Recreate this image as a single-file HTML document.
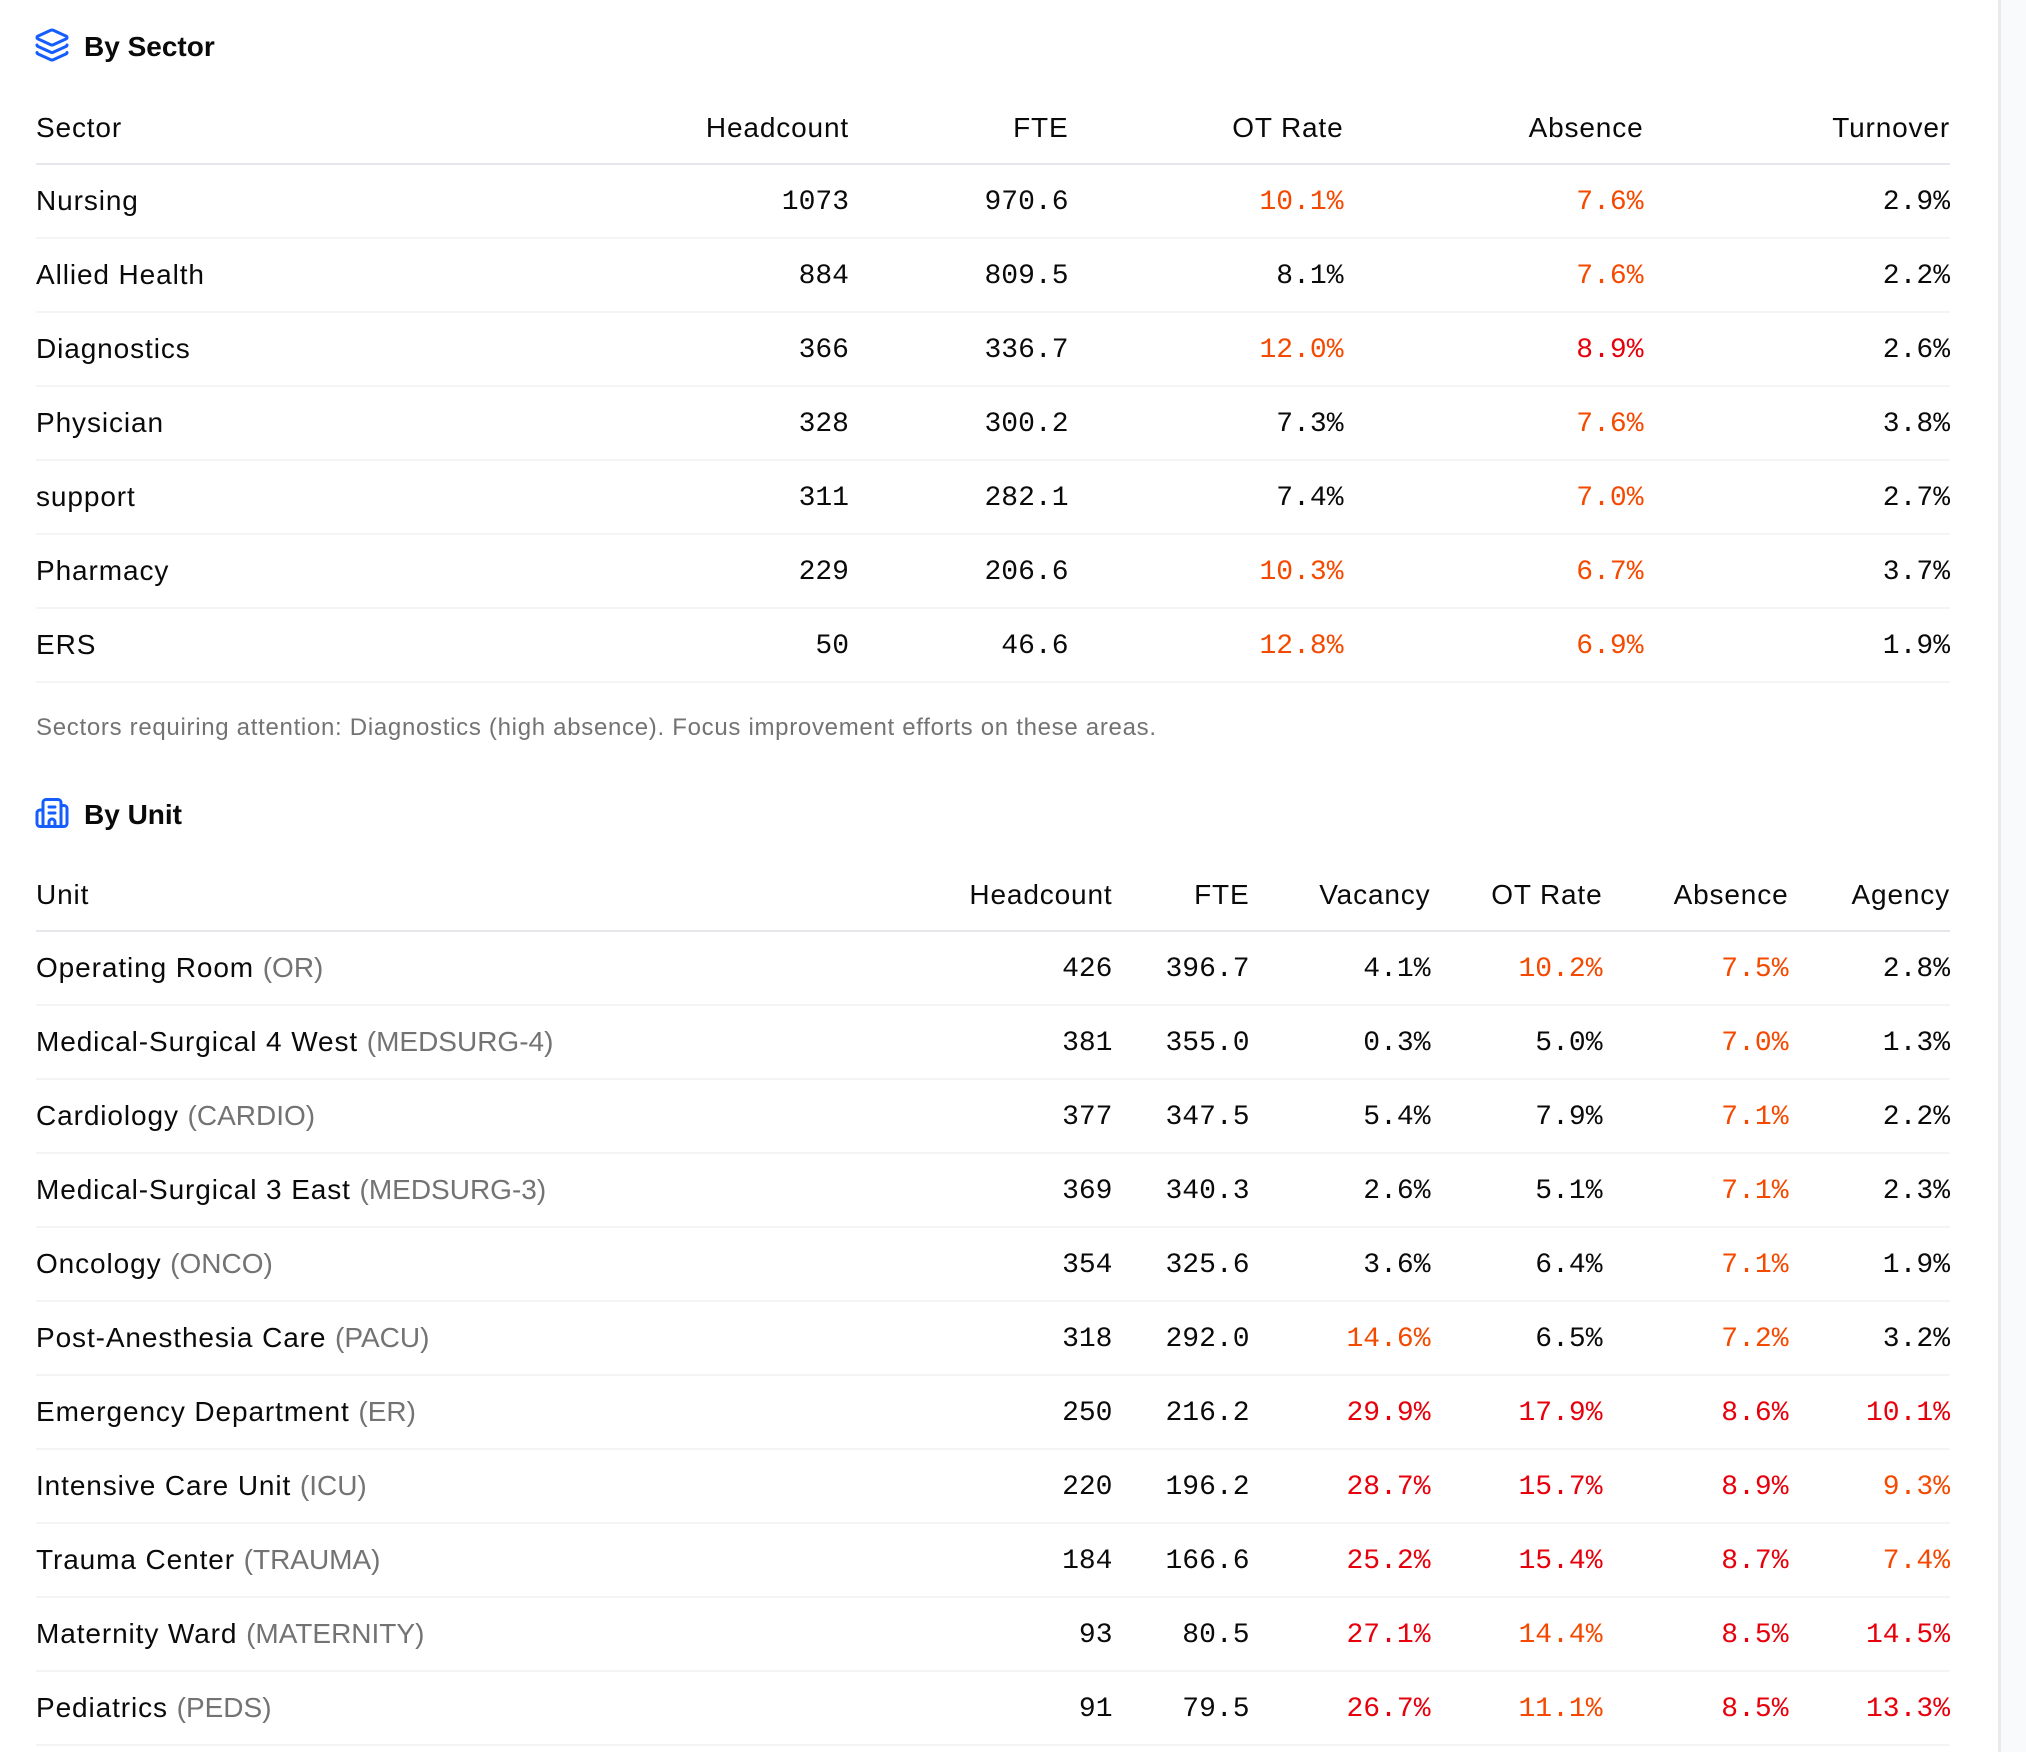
<!DOCTYPE html>
<html>
<head>
<meta charset="utf-8">
<style>
  html, body { margin: 0; padding: 0; }
  body {
    width: 2026px; height: 1752px; overflow: hidden; position: relative;
    background: #f9fafb;
    font-family: "Liberation Sans", Arial, sans-serif;
    color: #0a0a0a;
  }
  .panel {
    position: absolute; left: 0; top: 0; width: 1998px; height: 1752px;
    background: #ffffff;
    border-right: 3px solid #e8eaee;
  }
  .title {
    position: absolute; left: 34px; height: 40px; line-height: 40px;
    font-weight: 700; font-size: 28px; color: #0a0a0a;
    display: flex; align-items: center;
  }
  .title svg { width: 36px; height: 36px; margin-right: 14px; margin-top: -4px; }
  .title span { display: inline-block; }
  table {
    position: absolute; left: 36px; width: 1914px;
    border-collapse: collapse; table-layout: fixed;
  }
  th, td {
    padding: 16px 0; height: 40px; line-height: 40px; font-size: 28px;
    white-space: nowrap; vertical-align: middle;
  }
  th {
    font-weight: 400; letter-spacing: 0.85px; color: #0a0a0a;
    border-bottom: 2px solid #e5e7eb; text-align: right;
    padding-top: 17px; padding-bottom: 15px;
  }
  th.l { text-align: left; }
  td { border-bottom: 2px solid #f3f4f6; text-align: right;
       font-family: "Liberation Mono", "DejaVu Sans Mono", monospace; letter-spacing: 0;
       padding-top: 18px; padding-bottom: 14px; }
  td.n { text-align: left; font-family: "Liberation Sans", Arial, sans-serif; letter-spacing: 0.9px;
         padding-top: 16px; padding-bottom: 16px; }
  .code { color: #737373; letter-spacing: 0; }
  .o { color: #f54900; }
  .r { color: #e7000b; }
  .note {
    position: absolute; left: 36px; top: 712px; line-height: 32px; height: 32px;
    font-size: 24px; letter-spacing: 0.7px; color: #737373; white-space: nowrap;
  }
</style>
</head>
<body>
<div class="panel"></div>

<div class="title" style="top:27px;">
  <svg viewBox="0 0 24 24" fill="none" stroke="#155dfc" stroke-width="2" stroke-linecap="round" stroke-linejoin="round">
    <path d="M12.83 2.18a2 2 0 0 0-1.66 0L2.6 6.08a1 1 0 0 0 0 1.83l8.58 3.91a2 2 0 0 0 1.66 0l8.58-3.9a1 1 0 0 0 0-1.83Z"/>
    <path d="M2 12a1 1 0 0 0 .58.91l8.6 3.91a2 2 0 0 0 1.65 0l8.58-3.9A1 1 0 0 0 22 12"/>
    <path d="M2 17a1 1 0 0 0 .58.91l8.6 3.91a2 2 0 0 0 1.65 0l8.58-3.9A1 1 0 0 0 22 17"/>
  </svg>
  <span>By Sector</span>
</div>

<table style="top:91px;">
  <colgroup>
    <col style="width:563px"><col style="width:250px"><col style="width:219.5px">
    <col style="width:275px"><col style="width:300px"><col style="width:306.5px">
  </colgroup>
  <thead>
    <tr><th class="l">Sector</th><th>Headcount</th><th>FTE</th><th>OT Rate</th><th>Absence</th><th>Turnover</th></tr>
  </thead>
  <tbody>
    <tr><td class="n">Nursing</td><td>1073</td><td>970.6</td><td class="o">10.1%</td><td class="o">7.6%</td><td>2.9%</td></tr>
    <tr><td class="n">Allied Health</td><td>884</td><td>809.5</td><td>8.1%</td><td class="o">7.6%</td><td>2.2%</td></tr>
    <tr><td class="n">Diagnostics</td><td>366</td><td>336.7</td><td class="o">12.0%</td><td class="r">8.9%</td><td>2.6%</td></tr>
    <tr><td class="n">Physician</td><td>328</td><td>300.2</td><td>7.3%</td><td class="o">7.6%</td><td>3.8%</td></tr>
    <tr><td class="n">support</td><td>311</td><td>282.1</td><td>7.4%</td><td class="o">7.0%</td><td>2.7%</td></tr>
    <tr><td class="n">Pharmacy</td><td>229</td><td>206.6</td><td class="o">10.3%</td><td class="o">6.7%</td><td>3.7%</td></tr>
    <tr><td class="n">ERS</td><td>50</td><td>46.6</td><td class="o">12.8%</td><td class="o">6.9%</td><td>1.9%</td></tr>
  </tbody>
</table>

<div class="note">Sectors requiring attention: Diagnostics (high absence). Focus improvement efforts on these areas.</div>

<div class="title" style="top:795px;">
  <svg viewBox="0 0 24 24" fill="none" stroke="#155dfc" stroke-width="2" stroke-linecap="round" stroke-linejoin="round">
    <path d="M10 12h4"/><path d="M10 8h4"/>
    <path d="M14 21v-3a2 2 0 0 0-4 0v3"/>
    <path d="M6 10H4a2 2 0 0 0-2 2v7a2 2 0 0 0 2 2h16a2 2 0 0 0 2-2V9a2 2 0 0 0-2-2h-2"/>
    <path d="M6 21V5a2 2 0 0 1 2-2h8a2 2 0 0 1 2 2v16"/>
  </svg>
  <span>By Unit</span>
</div>

<table style="top:858px;">
  <colgroup>
    <col style="width:876.5px"><col style="width:200px"><col style="width:137px">
    <col style="width:181px"><col style="width:172px"><col style="width:186px"><col style="width:161.5px">
  </colgroup>
  <thead>
    <tr><th class="l">Unit</th><th>Headcount</th><th>FTE</th><th>Vacancy</th><th>OT Rate</th><th>Absence</th><th>Agency</th></tr>
  </thead>
  <tbody>
    <tr><td class="n">Operating Room <span class="code">(OR)</span></td><td>426</td><td>396.7</td><td>4.1%</td><td class="o">10.2%</td><td class="o">7.5%</td><td>2.8%</td></tr>
    <tr><td class="n">Medical-Surgical 4 West <span class="code">(MEDSURG-4)</span></td><td>381</td><td>355.0</td><td>0.3%</td><td>5.0%</td><td class="o">7.0%</td><td>1.3%</td></tr>
    <tr><td class="n">Cardiology <span class="code">(CARDIO)</span></td><td>377</td><td>347.5</td><td>5.4%</td><td>7.9%</td><td class="o">7.1%</td><td>2.2%</td></tr>
    <tr><td class="n">Medical-Surgical 3 East <span class="code">(MEDSURG-3)</span></td><td>369</td><td>340.3</td><td>2.6%</td><td>5.1%</td><td class="o">7.1%</td><td>2.3%</td></tr>
    <tr><td class="n">Oncology <span class="code">(ONCO)</span></td><td>354</td><td>325.6</td><td>3.6%</td><td>6.4%</td><td class="o">7.1%</td><td>1.9%</td></tr>
    <tr><td class="n">Post-Anesthesia Care <span class="code">(PACU)</span></td><td>318</td><td>292.0</td><td class="o">14.6%</td><td>6.5%</td><td class="o">7.2%</td><td>3.2%</td></tr>
    <tr><td class="n">Emergency Department <span class="code">(ER)</span></td><td>250</td><td>216.2</td><td class="r">29.9%</td><td class="r">17.9%</td><td class="r">8.6%</td><td class="r">10.1%</td></tr>
    <tr><td class="n">Intensive Care Unit <span class="code">(ICU)</span></td><td>220</td><td>196.2</td><td class="r">28.7%</td><td class="r">15.7%</td><td class="r">8.9%</td><td class="o">9.3%</td></tr>
    <tr><td class="n">Trauma Center <span class="code">(TRAUMA)</span></td><td>184</td><td>166.6</td><td class="r">25.2%</td><td class="r">15.4%</td><td class="r">8.7%</td><td class="o">7.4%</td></tr>
    <tr><td class="n">Maternity Ward <span class="code">(MATERNITY)</span></td><td>93</td><td>80.5</td><td class="r">27.1%</td><td class="o">14.4%</td><td class="r">8.5%</td><td class="r">14.5%</td></tr>
    <tr><td class="n">Pediatrics <span class="code">(PEDS)</span></td><td>91</td><td>79.5</td><td class="r">26.7%</td><td class="o">11.1%</td><td class="r">8.5%</td><td class="r">13.3%</td></tr>
  </tbody>
</table>
</body>
</html>
